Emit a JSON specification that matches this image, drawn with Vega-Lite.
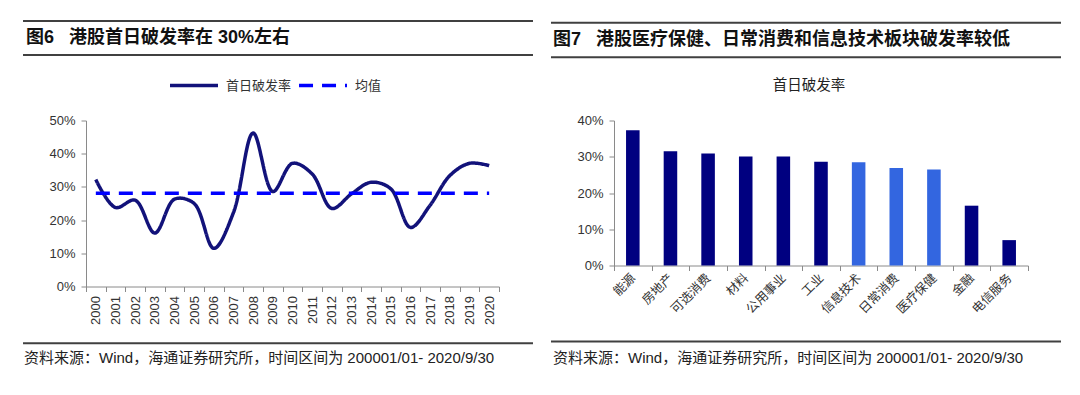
{
  "$schema": "https://vega.github.io/schema/vega-lite/v6.json",
  "padding": {"left": 22, "top": 19.5, "right": 0, "bottom": 0},
  "background": "white",
  "spacing": 15,
  "resolve": {"scale": {"color": "independent", "strokeDash": "independent", "y": "independent"}, "legend": {"color": "independent", "strokeDash": "independent"}},
  "config": {
    "view": {"stroke": null},
    "font": "Liberation Sans",
    "axis": {"grid": false, "title": null, "domainColor": "#8a8a8a", "tickColor": "#8a8a8a", "labelColor": "#333333"}
  },
  "datasets": {
    "rates": [
      {"年份": "2000", "首日破发率": 0.322, "均值": 0.281},
      {"年份": "2001", "首日破发率": 0.238, "均值": 0.281},
      {"年份": "2002", "首日破发率": 0.260, "均值": 0.281},
      {"年份": "2003", "首日破发率": 0.161, "均值": 0.281},
      {"年份": "2004", "首日破发率": 0.263, "均值": 0.281},
      {"年份": "2005", "首日破发率": 0.250, "均值": 0.281},
      {"年份": "2006", "首日破发率": 0.115, "均值": 0.281},
      {"年份": "2007", "首日破发率": 0.223, "均值": 0.281},
      {"年份": "2008", "首日破发率": 0.462, "均值": 0.281},
      {"年份": "2009", "首日破发率": 0.286, "均值": 0.281},
      {"年份": "2010", "首日破发率": 0.371, "均值": 0.281},
      {"年份": "2011", "首日破发率": 0.339, "均值": 0.281},
      {"年份": "2012", "首日破发率": 0.235, "均值": 0.281},
      {"年份": "2013", "首日破发率": 0.279, "均值": 0.281},
      {"年份": "2014", "首日破发率": 0.314, "均值": 0.281},
      {"年份": "2015", "首日破发率": 0.294, "均值": 0.281},
      {"年份": "2016", "首日破发率": 0.178, "均值": 0.281},
      {"年份": "2017", "首日破发率": 0.245, "均值": 0.281},
      {"年份": "2018", "首日破发率": 0.334, "均值": 0.281},
      {"年份": "2019", "首日破发率": 0.371, "均值": 0.281},
      {"年份": "2020", "首日破发率": 0.364, "均值": 0.281}
    ],
    "sectors": [
      {"行业": "能源", "破发率": 0.373, "板块": "其他"},
      {"行业": "房地产", "破发率": 0.315, "板块": "其他"},
      {"行业": "可选消费", "破发率": 0.309, "板块": "其他"},
      {"行业": "材料", "破发率": 0.301, "板块": "其他"},
      {"行业": "公用事业", "破发率": 0.301, "板块": "其他"},
      {"行业": "工业", "破发率": 0.286, "板块": "其他"},
      {"行业": "信息技术", "破发率": 0.285, "板块": "较低"},
      {"行业": "日常消费", "破发率": 0.269, "板块": "较低"},
      {"行业": "医疗保健", "破发率": 0.265, "板块": "较低"},
      {"行业": "金融", "破发率": 0.165, "板块": "其他"},
      {"行业": "电信服务", "破发率": 0.070, "板块": "其他"}
    ]
  },
  "hconcat": [
    {
      "width": 413,
      "height": 166,
      "resolve": {"scale": {"x": "independent"}, "axis": {"y": "independent"}},
      "layer": [
        {
          "data": {"name": "rates"},
          "transform": [{"fold": ["首日破发率", "均值"], "as": ["系列", "值"]}],
          "mark": {"type": "line", "interpolate": "catmull-rom", "strokeWidth": 3.5},
          "encoding": {
            "x": {"field": "年份", "type": "nominal", "bandPosition": 0.5,
              "scale": {"type": "band", "paddingInner": 0, "paddingOuter": 0},
              "axis": {"labelAngle": -90, "labelFontSize": 13, "tickSize": 5, "labelPadding": 4, "tickBand": "extent"}},
            "y": {"field": "值", "type": "quantitative",
              "scale": {"domain": [0, 0.5], "nice": false},
              "axis": {"orient": "left", "values": [0, 0.1, 0.2, 0.3, 0.4, 0.5], "labelOverlap": false, "format": ".0%", "labelFontSize": 13, "tickSize": 5, "labelPadding": 6}},
            "color": {"field": "系列", "type": "nominal",
              "scale": {"domain": ["首日破发率", "均值"], "range": ["#12127a", "#0000ff"]},
              "legend": {"orient": "none", "legendX": 82, "legendY": -61, "direction": "horizontal", "title": null,
                "symbolType": "stroke", "symbolSize": 2300, "symbolStrokeWidth": 3.5,
                "labelFont": "Noto Sans CJK SC", "labelFontSize": 13, "labelColor": "#333333", "labelOffset": 6, "columnPadding": 0}},
            "strokeDash": {"field": "系列", "type": "nominal",
              "scale": {"domain": ["首日破发率", "均值"], "range": [[1, 0], [14, 9]]}}
          }
        },
        {
          "data": {"values": [{}]},
          "mark": {"type": "rule", "stroke": "#404040", "strokeWidth": 2},
          "encoding": {
            "x": {"datum": -0.1525, "type": "quantitative", "scale": {"domain": [0, 1], "nice": false, "zero": false}, "axis": null},
            "x2": {"datum": 1.0823},
            "y": {"datum": 0.7997, "type": "quantitative", "axis": null}
          }
        },
        {
          "data": {"values": [{}]},
          "mark": {"type": "rule", "stroke": "#404040", "strokeWidth": 2},
          "encoding": {
            "x": {"datum": -0.1525, "type": "quantitative", "scale": {"domain": [0, 1], "nice": false, "zero": false}, "axis": null},
            "x2": {"datum": 1.0823},
            "y": {"datum": 0.6973, "type": "quantitative", "axis": null}
          }
        },
        {
          "data": {"values": [{}]},
          "mark": {"type": "rule", "stroke": "#404040", "strokeWidth": 2},
          "encoding": {
            "x": {"datum": -0.1525, "type": "quantitative", "scale": {"domain": [0, 1], "nice": false, "zero": false}, "axis": null},
            "x2": {"datum": 1.0823},
            "y": {"datum": -0.1708, "type": "quantitative", "axis": null}
          }
        },
        {
          "data": {"values": [{}]},
          "mark": {"type": "text", "align": "left", "baseline": "middle", "font": "Liberation Sans, Noto Sans CJK SC", "fontWeight": "bold", "fontSize": 18, "color": "#111111", "text": "图6\u00a0\u00a0\u00a0港股首日破发率在 30%左右"},
          "encoding": {
            "x": {"datum": -0.1453, "type": "quantitative", "scale": {"domain": [0, 1], "nice": false, "zero": false}, "axis": null},
            "y": {"datum": 0.7485, "type": "quantitative", "axis": null}
          }
        },
        {
          "data": {"values": [{}]},
          "mark": {"type": "text", "align": "left", "baseline": "middle", "font": "Liberation Sans, Noto Sans CJK SC", "fontSize": 15, "color": "#222222", "text": "资料来源：Wind，海通证券研究所，时间区间为 200001/01- 2020/9/30"},
          "encoding": {
            "x": {"datum": -0.1501, "type": "quantitative", "scale": {"domain": [0, 1], "nice": false, "zero": false}, "axis": null},
            "y": {"datum": -0.2154, "type": "quantitative", "axis": null}
          }
        }
      ]
    },
    {
      "width": 414,
      "height": 145,
      "resolve": {"scale": {"x": "independent"}, "axis": {"y": "independent"}},
      "layer": [
        {
          "data": {"name": "sectors"},
          "mark": {"type": "bar", "width": {"band": 0.36}},
          "encoding": {
            "x": {"field": "行业", "type": "nominal", "sort": null,
              "scale": {"type": "band", "paddingInner": 0, "paddingOuter": 0},
              "axis": {"labelAngle": -45, "labelAlign": "right", "labelBaseline": "middle", "labelFont": "Noto Sans CJK SC", "labelFontSize": 12.5, "tickSize": 5, "labelPadding": 5, "tickBand": "extent"}},
            "y": {"field": "破发率", "type": "quantitative",
              "scale": {"domain": [0, 0.4], "nice": false},
              "axis": {"orient": "left", "values": [0, 0.1, 0.2, 0.3, 0.4], "labelOverlap": false, "format": ".0%", "labelFontSize": 13, "tickSize": 5, "labelPadding": 6}},
            "color": {"field": "板块", "type": "nominal",
              "scale": {"domain": ["其他", "较低"], "range": ["#000080", "#3366e0"]},
              "legend": null}
          }
        },
        {
          "data": {"values": [{}]},
          "mark": {"type": "rule", "stroke": "#404040", "strokeWidth": 2},
          "encoding": {
            "x": {"datum": -0.1522, "type": "quantitative", "scale": {"domain": [0, 1], "nice": false, "zero": false}, "axis": null},
            "x2": {"datum": 1.0797},
            "y": {"datum": 0.6695, "type": "quantitative", "axis": null}
          }
        },
        {
          "data": {"values": [{}]},
          "mark": {"type": "rule", "stroke": "#404040", "strokeWidth": 2},
          "encoding": {
            "x": {"datum": -0.1522, "type": "quantitative", "scale": {"domain": [0, 1], "nice": false, "zero": false}, "axis": null},
            "x2": {"datum": 1.0797},
            "y": {"datum": 0.5746, "type": "quantitative", "axis": null}
          }
        },
        {
          "data": {"values": [{}]},
          "mark": {"type": "rule", "stroke": "#404040", "strokeWidth": 2},
          "encoding": {
            "x": {"datum": -0.1522, "type": "quantitative", "scale": {"domain": [0, 1], "nice": false, "zero": false}, "axis": null},
            "x2": {"datum": 1.0797},
            "y": {"datum": -0.2097, "type": "quantitative", "axis": null}
          }
        },
        {
          "data": {"values": [{}]},
          "mark": {"type": "text", "align": "left", "baseline": "middle", "font": "Liberation Sans, Noto Sans CJK SC", "fontWeight": "bold", "fontSize": 18, "color": "#111111", "text": "图7\u00a0\u00a0\u00a0港股医疗保健、日常消费和信息技术板块破发率较低"},
          "encoding": {
            "x": {"datum": -0.1473, "type": "quantitative", "scale": {"domain": [0, 1], "nice": false, "zero": false}, "axis": null},
            "y": {"datum": 0.6221, "type": "quantitative", "axis": null}
          }
        },
        {
          "data": {"values": [{}]},
          "mark": {"type": "text", "align": "center", "baseline": "middle", "font": "Noto Sans CJK SC", "fontSize": 14.5, "color": "#222222", "text": "首日破发率"},
          "encoding": {
            "x": {"datum": 0.471, "type": "quantitative", "scale": {"domain": [0, 1], "nice": false, "zero": false}, "axis": null},
            "y": {"datum": 0.4938, "type": "quantitative", "axis": null}
          }
        },
        {
          "data": {"values": [{}]},
          "mark": {"type": "text", "align": "left", "baseline": "middle", "font": "Liberation Sans, Noto Sans CJK SC", "fontSize": 15, "color": "#222222", "text": "资料来源：Wind，海通证券研究所，时间区间为 200001/01- 2020/9/30"},
          "encoding": {
            "x": {"datum": -0.1473, "type": "quantitative", "scale": {"domain": [0, 1], "nice": false, "zero": false}, "axis": null},
            "y": {"datum": -0.2552, "type": "quantitative", "axis": null}
          }
        }
      ]
    }
  ]
}
